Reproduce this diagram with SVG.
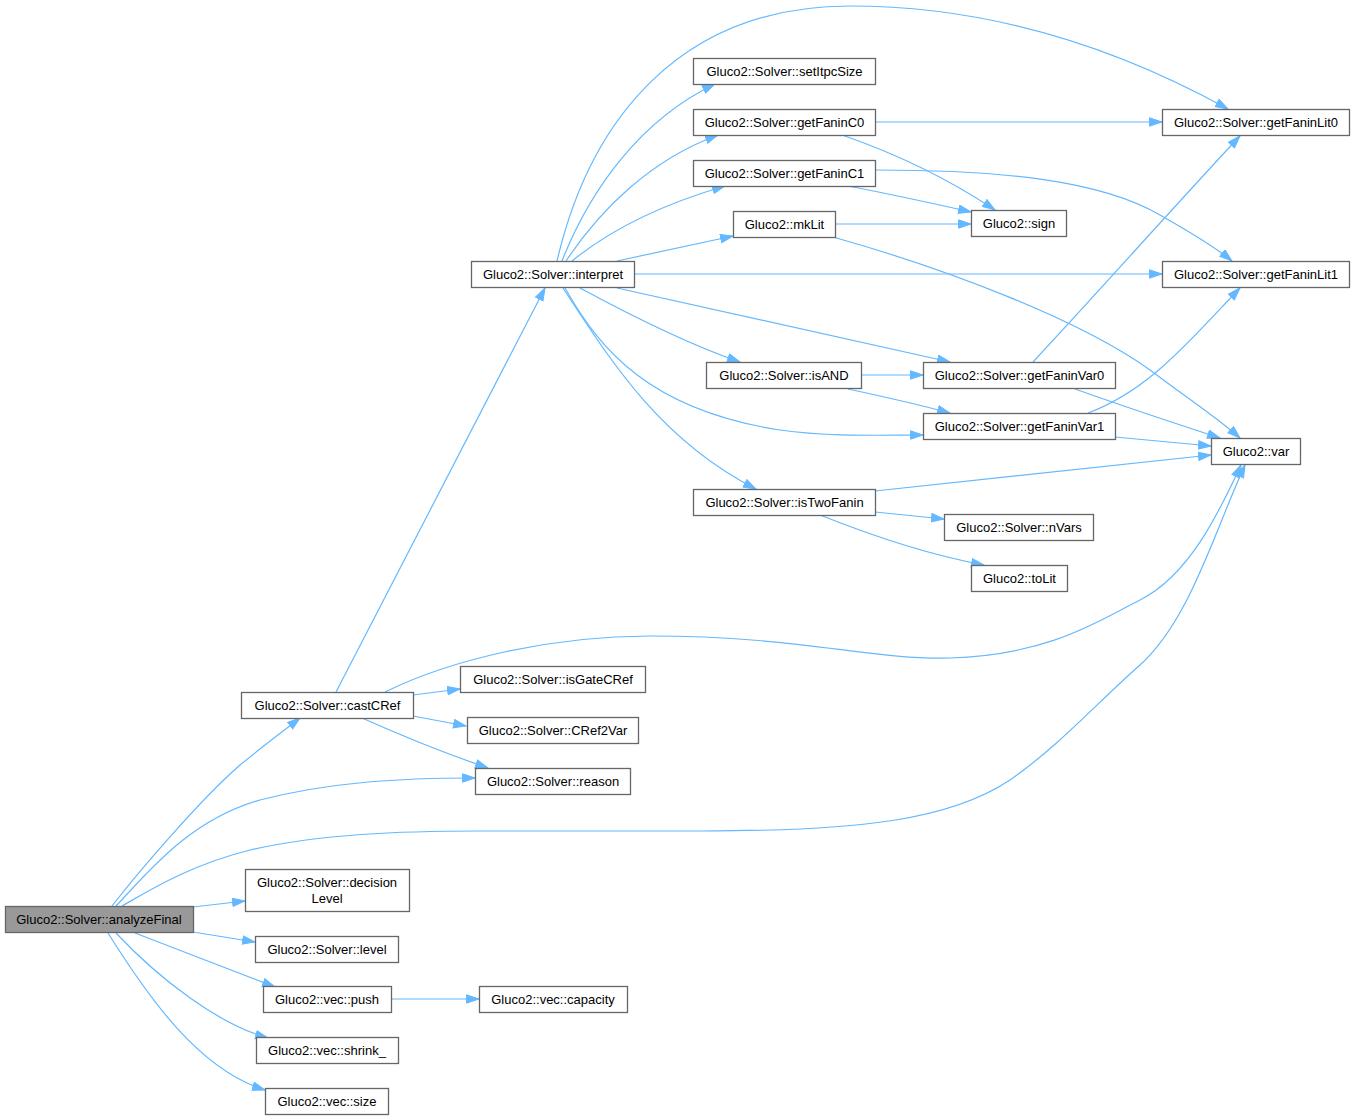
<svg xmlns="http://www.w3.org/2000/svg" width="1355" height="1120" viewBox="0 0 1355 1120">
<defs>
<marker id="ah" markerUnits="userSpaceOnUse" markerWidth="15" markerHeight="11" refX="13" refY="4.7" orient="auto">
<path d="M0.5,0.5 L13,4.7 L0.5,8.9 z" fill="#63b8ff" stroke="#63b8ff" stroke-width="1"/>
</marker>
</defs>
<style>
.n rect{fill:#fff;stroke:#666;stroke-width:1.3}
.n text{font-family:"Liberation Sans",Arial,sans-serif;font-size:13px;fill:#000;text-anchor:middle}
#n_analyzeFinal rect{fill:#999}
#edges path{fill:none;stroke:#63b8ff;stroke-width:1.2;marker-end:url(#ah)}
</style>
<rect width="1355" height="1120" fill="#fff"/>
<g id="edges">
<path d="M112,906 C140,870 200,800 240,765 C262,747 282,732 300,718"/>
<path d="M116,906 C150,870 190,820 260,800 C330,782 400,778 475,778"/>
<path d="M122,906 C150,890 190,865 250,850 C320,834 400,831 480,831 L700,831 C860,831 950,820 1010,780 C1060,745 1100,700 1140,665 C1190,620 1215,530 1245,465"/>
<path d="M193,907 L245,901"/>
<path d="M193,932 L255,942"/>
<path d="M135,933 C180,950 230,970 275,987"/>
<path d="M116,933 C160,980 220,1025 268,1038"/>
<path d="M108,933 C150,1000 200,1070 265,1090"/>
<path d="M391,999 L479,999"/>
<path d="M336,692 L545,288"/>
<path d="M385,692 C450,660 550,636 650,636 C800,636 870,660 950,658 C1050,655 1100,620 1140,600 C1190,575 1220,510 1241,465"/>
<path d="M413,695 L460,689"/>
<path d="M413,716 L466,726"/>
<path d="M362,718 C400,735 450,755 488,768"/>
<path d="M562,261 C590,190 640,120 715,84"/>
<path d="M557,261 C590,120 680,6 850,6 C1000,6 1130,55 1228,109"/>
<path d="M566,261 C600,210 650,160 718,135"/>
<path d="M572,261 C610,230 660,205 725,186"/>
<path d="M617,261 L733,236"/>
<path d="M634,274 L1162,274"/>
<path d="M617,288 L950,362"/>
<path d="M580,288 C630,315 690,345 740,362"/>
<path d="M565,288 C600,350 650,410 780,430 C830,437 880,435 923,435"/>
<path d="M563,288 C610,360 660,440 756,489"/>
<path d="M875,122 L1162,122"/>
<path d="M842,135 C900,155 950,180 995,210"/>
<path d="M848,186 C900,196 940,205 971,212"/>
<path d="M875,170 C1000,170 1100,180 1160,215 C1190,232 1215,247 1232,261"/>
<path d="M835,224 L971,224"/>
<path d="M833,237 C950,270 1080,320 1150,370 C1190,400 1220,420 1240,438"/>
<path d="M862,375 L923,375"/>
<path d="M848,389 C890,398 920,405 950,413"/>
<path d="M1033,362 C1100,290 1180,200 1240,136"/>
<path d="M1075,389 C1120,405 1180,425 1220,438"/>
<path d="M1088,413 C1150,390 1190,340 1240,288"/>
<path d="M1115,437 L1211,446"/>
<path d="M875,491 L1211,455"/>
<path d="M875,512 L944,519"/>
<path d="M820,515 C870,535 930,555 984,565"/>
</g>
<g id="n_analyzeFinal" class="n"><rect x="5.5" y="906.5" width="188" height="26"/><text x="99" y="923.5">Gluco2::Solver::analyzeFinal</text></g>
<g id="n_decisionLevel" class="n"><rect x="245.5" y="869.5" width="164" height="42"/><text x="327" y="886.5">Gluco2::Solver::decision</text><text x="327" y="902.5">Level</text></g>
<g id="n_level" class="n"><rect x="255.5" y="936.5" width="143" height="26"/><text x="327" y="953.5">Gluco2::Solver::level</text></g>
<g id="n_push" class="n"><rect x="263.5" y="986.5" width="128" height="26"/><text x="327" y="1003.5">Gluco2::vec::push</text></g>
<g id="n_shrink" class="n"><rect x="256.5" y="1037.5" width="142" height="26"/><text x="327" y="1054.5">Gluco2::vec::shrink_</text></g>
<g id="n_size" class="n"><rect x="265.5" y="1088.5" width="123" height="26"/><text x="327" y="1105.5">Gluco2::vec::size</text></g>
<g id="n_capacity" class="n"><rect x="479.5" y="986.5" width="148" height="26"/><text x="553" y="1003.5">Gluco2::vec::capacity</text></g>
<g id="n_castCRef" class="n"><rect x="241.5" y="692.5" width="172" height="26"/><text x="327.5" y="709.5">Gluco2::Solver::castCRef</text></g>
<g id="n_isGateCRef" class="n"><rect x="460.5" y="666.5" width="185" height="26"/><text x="553" y="683.5">Gluco2::Solver::isGateCRef</text></g>
<g id="n_CRef2Var" class="n"><rect x="467.5" y="717.5" width="171" height="26"/><text x="553" y="734.5">Gluco2::Solver::CRef2Var</text></g>
<g id="n_reason" class="n"><rect x="475.5" y="768.5" width="155" height="26"/><text x="553" y="785.5">Gluco2::Solver::reason</text></g>
<g id="n_interpret" class="n"><rect x="471.5" y="261.5" width="163" height="26"/><text x="553" y="278.5">Gluco2::Solver::interpret</text></g>
<g id="n_setItpcSize" class="n"><rect x="693.5" y="58.5" width="182" height="26"/><text x="784.5" y="75.5">Gluco2::Solver::setItpcSize</text></g>
<g id="n_getFaninC0" class="n"><rect x="693.5" y="109.5" width="182" height="26"/><text x="784.5" y="126.5">Gluco2::Solver::getFaninC0</text></g>
<g id="n_getFaninC1" class="n"><rect x="693.5" y="160.5" width="182" height="26"/><text x="784.5" y="177.5">Gluco2::Solver::getFaninC1</text></g>
<g id="n_mkLit" class="n"><rect x="733.5" y="211.5" width="102" height="26"/><text x="784.5" y="228.5">Gluco2::mkLit</text></g>
<g id="n_isAND" class="n"><rect x="706.5" y="362.5" width="155" height="26"/><text x="784" y="379.5">Gluco2::Solver::isAND</text></g>
<g id="n_isTwoFanin" class="n"><rect x="693.5" y="489.5" width="182" height="26"/><text x="784.5" y="506.5">Gluco2::Solver::isTwoFanin</text></g>
<g id="n_getFaninLit0" class="n"><rect x="1162.5" y="109.5" width="187" height="26"/><text x="1256" y="126.5">Gluco2::Solver::getFaninLit0</text></g>
<g id="n_getFaninLit1" class="n"><rect x="1162.5" y="261.5" width="187" height="26"/><text x="1256" y="278.5">Gluco2::Solver::getFaninLit1</text></g>
<g id="n_sign" class="n"><rect x="971.5" y="210.5" width="95" height="26"/><text x="1019" y="227.5">Gluco2::sign</text></g>
<g id="n_getFaninVar0" class="n"><rect x="923.5" y="362.5" width="192" height="26"/><text x="1019.5" y="379.5">Gluco2::Solver::getFaninVar0</text></g>
<g id="n_getFaninVar1" class="n"><rect x="923.5" y="413.5" width="192" height="26"/><text x="1019.5" y="430.5">Gluco2::Solver::getFaninVar1</text></g>
<g id="n_var" class="n"><rect x="1211.5" y="438.5" width="89" height="26"/><text x="1256" y="455.5">Gluco2::var</text></g>
<g id="n_nVars" class="n"><rect x="944.5" y="514.5" width="149" height="26"/><text x="1019" y="531.5">Gluco2::Solver::nVars</text></g>
<g id="n_toLit" class="n"><rect x="971.5" y="565.5" width="96" height="26"/><text x="1019.5" y="582.5">Gluco2::toLit</text></g>
</svg>
